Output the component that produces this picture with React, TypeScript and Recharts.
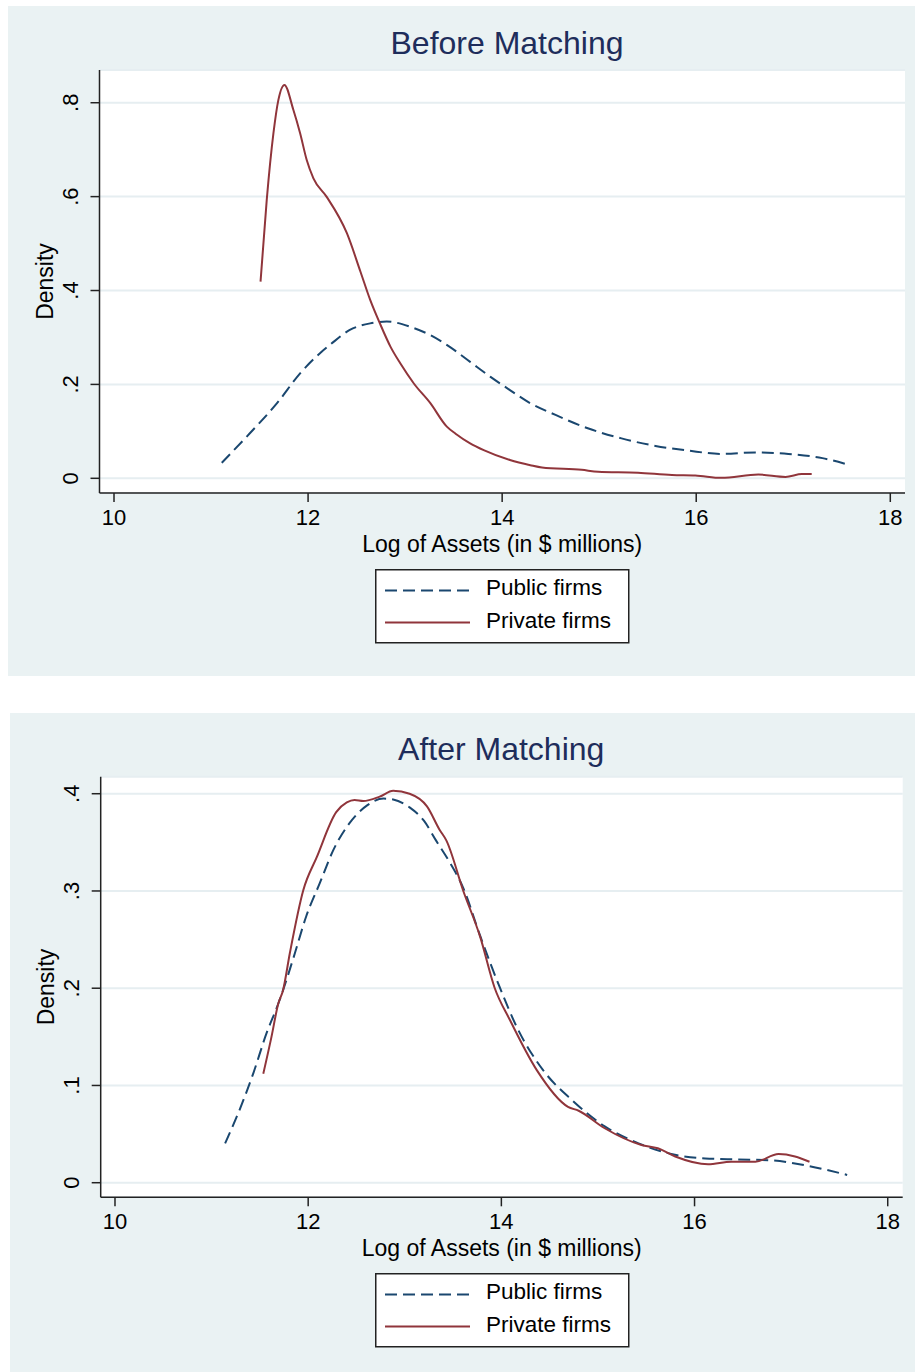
import React from "react";
import {
  LineChart,
  Line,
  XAxis,
  YAxis,
  CartesianGrid,
  Legend,
} from "recharts";

const FONT = '"Liberation Sans", Arial, Helvetica, sans-serif';
const NAVY = "#1a476f";
const MAROON = "#90353b";
const BG = "#eaf2f3";
const GRID = "#e6eef1";
const TITLE_COLOR = "#1e2d5b";

// ---------- categories / tick labels ----------
const seriesNames = ["Public firms", "Private firms"];
const panelTitles = ["Before Matching", "After Matching"];
const xAxisTitle = "Log of Assets (in $ millions)";
const yAxisTitle = "Density";
const xTicks = [10, 12, 14, 16, 18];
const yTicksBefore = [0, 0.2, 0.4, 0.6, 0.8];
const yTicksAfter = [0, 0.1, 0.2, 0.3, 0.4];

// ---------- Before matching ----------
const beforePublicX = [
  11.11, 11.4, 11.68, 11.92, 12.12, 12.23, 12.43, 12.64, 12.81, 13.05, 13.26,
  13.46, 13.67, 13.88, 14.08, 14.29, 14.55, 14.89, 15.23, 15.58, 15.92, 16.26,
  16.61, 16.95, 17.3, 17.55,
];
const beforePublicY = [
  0.033, 0.096, 0.16, 0.224, 0.266, 0.285, 0.316, 0.33, 0.334, 0.323, 0.305,
  0.28, 0.248, 0.216, 0.188, 0.16, 0.135, 0.106, 0.085, 0.069, 0.059, 0.052,
  0.055, 0.052, 0.043, 0.03,
];
const beforePrivateX = [
  11.51, 11.574, 11.643, 11.694, 11.756, 11.848, 11.918, 11.986, 12.055, 12.19,
  12.4, 12.54, 12.64, 12.74, 12.85, 12.95, 13.09, 13.26, 13.43, 13.52, 13.67,
  13.81, 14.08, 14.29, 14.41, 14.82, 14.99, 15.4, 15.75, 15.99, 16.26, 16.64,
  16.92, 17.09, 17.19,
];
const beforePrivateY = [
  0.419, 0.593, 0.735, 0.806, 0.838, 0.785, 0.735, 0.678, 0.639, 0.6, 0.522,
  0.44, 0.38, 0.33, 0.28, 0.245, 0.202, 0.16, 0.11, 0.095, 0.0745, 0.06, 0.039,
  0.028, 0.023, 0.018, 0.014, 0.012, 0.007, 0.006, 0.001, 0.008, 0.003, 0.009,
  0.009,
];

// ---------- After matching ----------
const afterPublicX = [
  11.14, 11.29, 11.43, 11.57, 11.69, 11.74, 11.85, 11.98, 12.12, 12.26, 12.43,
  12.61, 12.78, 12.88, 13.05, 13.2, 13.323, 13.45, 13.606, 13.78, 13.985, 14.16,
  14.43, 14.73, 15.07, 15.42, 15.76, 16.11, 16.45, 16.8, 17.14, 17.58,
];
const afterPublicY = [
  0.0405, 0.075, 0.112, 0.154, 0.184, 0.198, 0.232, 0.274, 0.308, 0.342, 0.37,
  0.388, 0.395, 0.394, 0.386, 0.372, 0.352, 0.332, 0.303, 0.254, 0.2005, 0.16,
  0.116, 0.085, 0.058, 0.0405, 0.0295, 0.025, 0.024, 0.023, 0.018, 0.008,
];
const afterPrivateX = [
  11.535, 11.62, 11.69, 11.74, 11.81, 11.95, 12.09, 12.29, 12.4, 12.48, 12.57,
  12.74, 12.88, 13.05, 13.23, 13.36, 13.43, 13.606, 13.78, 13.93, 14.09, 14.365,
  14.69, 14.8, 15.07, 15.45, 15.62, 15.8, 16.14, 16.38, 16.63, 16.87, 17.04,
  17.19,
];
const afterPrivateY = [
  0.112, 0.15, 0.184, 0.198, 0.236, 0.301, 0.335, 0.381, 0.391, 0.3935, 0.3925,
  0.397, 0.403, 0.4, 0.387, 0.363, 0.352, 0.3, 0.253, 0.2005, 0.167, 0.116,
  0.078, 0.074, 0.056, 0.0388, 0.0354, 0.027, 0.019, 0.0216, 0.0216, 0.0295,
  0.027, 0.0216,
];

const zip = (xs: number[], ys: number[]) => xs.map((x, i) => ({ x, v: ys[i] }));

const seriesStyle: Record<string, { color: string; dash?: string }> = {
  "Public firms": { color: NAVY, dash: "12 6" },
  "Private firms": { color: MAROON },
};

const fmtY = (v: number) => (v === 0 ? "0" : String(v).replace(/^0/, ""));

const YTick = (props: any) => {
  const { x, y, payload } = props;
  return (
    <text
      transform={`translate(${x},${y}) rotate(-90)`}
      textAnchor="middle"
      fontSize={22}
      fontFamily={FONT}
      fill="#000"
    >
      {fmtY(payload.value)}
    </text>
  );
};

const XTick = (props: any) => {
  const { x, y, payload } = props;
  return (
    <text
      x={x}
      y={y + 16}
      textAnchor="middle"
      fontSize={22}
      fontFamily={FONT}
      fill="#000"
    >
      {payload.value}
    </text>
  );
};

const XTitle = (props: any) => {
  const vb = props.viewBox || {};
  return (
    <text
      x={vb.x + vb.width / 2}
      y={vb.y + 58.5}
      textAnchor="middle"
      fontSize={23}
      fontFamily={FONT}
      fill="#000"
    >
      {xAxisTitle}
    </text>
  );
};

const YTitle = (props: any) => {
  const vb = props.viewBox || {};
  const cx = vb.x + vb.width - 46.5;
  const cy = vb.y + vb.height / 2;
  return (
    <text
      transform={`translate(${cx},${cy}) rotate(-90)`}
      textAnchor="middle"
      fontSize={23}
      fontFamily={FONT}
      fill="#000"
    >
      {yAxisTitle}
    </text>
  );
};

const LegendBox = (props: any) => {
  const payload: any[] = props.payload || [];
  const found = payload.map((p) => p.value);
  const names = seriesNames.filter((n) => found.length === 0 || found.includes(n));
  return (
    <svg width={255} height={75} style={{ display: "block" }}>
      <rect x={0.75} y={0.75} width={253} height={73} fill="#fff" stroke="#222" strokeWidth={1.5} />
      {names.map((name: string, i: number) => {
        const st = seriesStyle[name] || { color: "#000" };
        const ly = 21.5 + i * 32;
        return (
          <g key={name}>
            <line
              x1={10}
              x2={95}
              y1={ly}
              y2={ly}
              stroke={st.color}
              strokeWidth={2}
              strokeDasharray={st.dash}
            />
            <text x={111} y={ly + 4.8 + i * 0.8} fontSize={22.5} fontFamily={FONT} fill="#000">
              {name}
            </text>
          </g>
        );
      })}
    </svg>
  );
};

type PanelProps = {
  left: number;
  top: number;
  width: number;
  height: number;
  title: string;
  titleX: number;
  titleY: number;
  margin: { top: number; right: number; bottom: number; left: number };
  xDomain: [number, number];
  yDomain: [number, number];
  yTicks: number[];
  publicData: { x: number; v: number }[];
  privateData: { x: number; v: number }[];
  legendLeft: number;
  legendTop: number;
};

const Panel = (p: PanelProps) => (
  <div
    style={{
      position: "absolute",
      left: p.left,
      top: p.top,
      width: p.width,
      height: p.height,
      background: BG,
    }}
  >
    <svg
      width={p.width}
      height={80}
      style={{ position: "absolute", left: 0, top: 0, pointerEvents: "none" }}
    >
      <text
        x={p.titleX}
        y={p.titleY}
        textAnchor="middle"
        fontSize={32}
        fontFamily={FONT}
        fill={TITLE_COLOR}
      >
        {p.title}
      </text>
    </svg>
    <div style={{ position: "absolute", left: 0, top: 0 }}>
      <LineChart width={p.width} height={p.height} margin={p.margin}>
        <CartesianGrid
          vertical={false}
          stroke={GRID}
          strokeWidth={2}
          fill="#ffffff"
        />
        <XAxis
          type="number"
          dataKey="x"
          domain={p.xDomain}
          ticks={xTicks}
          allowDataOverflow
          height={40}
          tickSize={9}
          tickMargin={7}
          tick={<XTick />}
          axisLine={{ stroke: "#222", strokeWidth: 1.5 }}
          tickLine={{ stroke: "#222", strokeWidth: 1.5 }}
          label={<XTitle />}
        />
        <YAxis
          type="number"
          domain={p.yDomain}
          ticks={p.yTicks}
          allowDataOverflow
          width={60}
          tickSize={9}
          tickMargin={13}
          tick={<YTick />}
          axisLine={{ stroke: "#222", strokeWidth: 1.5 }}
          tickLine={{ stroke: "#222", strokeWidth: 1.5 }}
          label={<YTitle />}
        />
        <Legend
          layout="horizontal"
          verticalAlign="middle"
          align="center"
          wrapperStyle={{
            position: "absolute",
            left: p.legendLeft,
            top: p.legendTop,
            width: 255,
            height: 75,
          }}
          content={<LegendBox />}
        />
        <Line
          data={p.publicData}
          dataKey="v"
          name={seriesNames[0]}
          type="monotone"
          stroke={NAVY}
          strokeWidth={2}
          strokeDasharray="12 6"
          dot={false}
          activeDot={false}
          isAnimationActive={false}
        />
        <Line
          data={p.privateData}
          dataKey="v"
          name={seriesNames[1]}
          type="monotone"
          stroke={MAROON}
          strokeWidth={2}
          dot={false}
          activeDot={false}
          isAnimationActive={false}
        />
      </LineChart>
    </div>
  </div>
);

export default function App() {
  return (
    <div
      style={{
        position: "absolute",
        left: 0,
        top: 0,
        width: 915,
        height: 1372,
        background: "#fff",
        fontFamily: FONT,
      }}
    >
      <Panel
        left={8}
        top={6}
        width={907}
        height={670}
        title={panelTitles[0]}
        titleX={499}
        titleY={48}
        margin={{ top: 64, right: 10, bottom: 143, left: 31.5 }}
        xDomain={[9.8505, 18.1515]}
        yDomain={[-0.0313, 0.8697]}
        yTicks={yTicksBefore}
        publicData={zip(beforePublicX, beforePublicY)}
        privateData={zip(beforePrivateX, beforePrivateY)}
        legendLeft={367}
        legendTop={563.3}
      />
      <Panel
        left={10}
        top={713}
        width={905}
        height={659}
        title={panelTitles[1]}
        titleX={491.2}
        titleY={47}
        margin={{ top: 63.7, right: 12.3, bottom: 134.7, left: 30.7 }}
        xDomain={[9.852, 18.155]}
        yDomain={[-0.015, 0.4175]}
        yTicks={yTicksAfter}
        publicData={zip(afterPublicX, afterPublicY)}
        privateData={zip(afterPrivateX, afterPrivateY)}
        legendLeft={365}
        legendTop={560.3}
      />
    </div>
  );
}
